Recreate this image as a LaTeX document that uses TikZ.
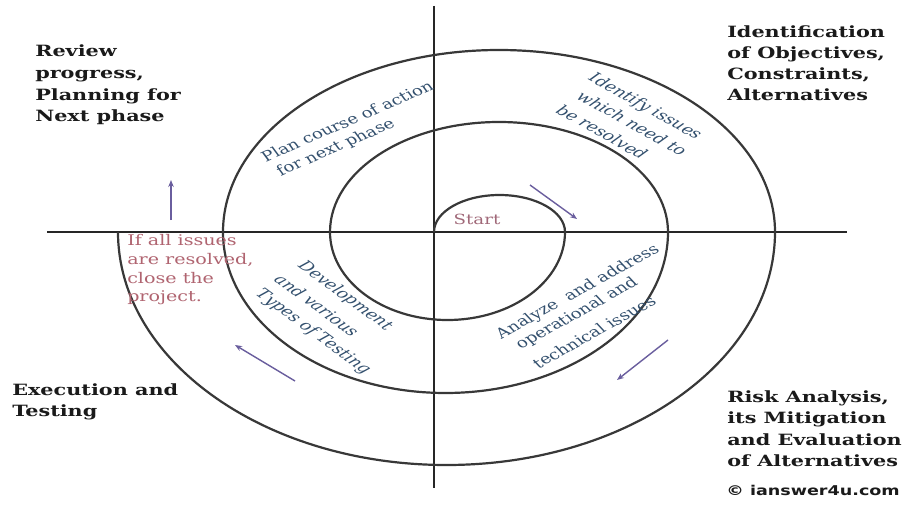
\documentclass[tikz,border=0pt]{standalone}
\usepackage{fontspec}
\setmainfont{DejaVu Serif}
\newfontfamily\cpfont{DejaVu Sans}
\usetikzlibrary{arrows.meta}
\definecolor{linec}{HTML}{383838}
\definecolor{axisc}{HTML}{262626}
\definecolor{headc}{HTML}{1A1A1A}
\definecolor{bluec}{HTML}{33506E}
\definecolor{startc}{HTML}{A06878}
\definecolor{pinkc}{HTML}{B06470}
\definecolor{arrc}{HTML}{6A5E9E}
\begin{document}
\begin{tikzpicture}[x=1pt,y=-1pt,
  spiral/.style={draw=linec, line width=2.2pt},
  axisline/.style={draw=axisc, line width=2.4pt},
  head/.style={font=\fontsize{15.5}{21}\selectfont\bfseries, text=headc, xscale=1.34, anchor=base west, inner sep=0pt},
  bluetxt/.style={font=\fontsize{14}{19}\selectfont, text=bluec, xscale=1.3, anchor=center, inner sep=0pt},
  blueit/.style={font=\fontsize{14}{19}\selectfont\itshape, text=bluec, xscale=1.3, anchor=center, inner sep=0pt},
  pinktxt/.style={font=\fontsize{14.7}{19}\selectfont, text=pinkc, xscale=1.3, anchor=base west, inner sep=0pt},
  arr/.style={draw=arrc, line width=1.4pt, -{Stealth[length=7pt,width=5.5pt]}}
]
\useasboundingbox (0,0) rectangle (904,505);
\fill[white] (0,0) rectangle (904,505);

% axes
\coordinate (hl) at (47,232);
\coordinate (hr) at (847,232);
\coordinate (vt) at (434,6);
\coordinate (vb) at (434,488);
\draw[axisline] (hl) -- (hr);
\draw[axisline] (vt) -- (vb);

% spiral
\coordinate (sp0) at (434,232);
\draw[spiral] (sp0)
  arc[start angle=180,end angle=360,x radius=65.5,y radius=37]
  arc[start angle=0,end angle=180,x radius=117.5,y radius=88]
  arc[start angle=180,end angle=360,x radius=169,y radius=110]
  arc[start angle=0,end angle=180,x radius=222.5,y radius=161]
  arc[start angle=180,end angle=360,x radius=276,y radius=182]
  arc[start angle=0,end angle=180,x radius=328.5,y radius=233];

% headings
\node[head] (rv1) at (35,57) {Review};
\node[head] (rv2) at (35,79) {progress,};
\node[head] (rv3) at (35,101) {Planning for};
\node[head] (rv4) at (35,122) {Next phase};
\node[head] (id1) at (727,38) {Identification};
\node[head] (id2) at (727,59) {of Objectives,};
\node[head] (id3) at (727,80) {Constraints,};
\node[head] (id4) at (727,101) {Alternatives};
\node[head] (ex1) at (12,395) {Execution and};
\node[head] (ex2) at (12,416) {Testing};
\node[head] (rk1) at (727,402) {Risk Analysis,};
\node[head] (rk2) at (727,423) {its Mitigation};
\node[head] (rk3) at (727,445) {and Evaluation};
\node[head] (rk4) at (727,466) {of Alternatives};

% copyright
\node[font=\cpfont\fontsize{13.5}{16}\selectfont\bfseries, text=headc, xscale=1.3, anchor=base east, inner sep=0pt] (cp) at (900,495) {© ianswer4u.com};

% blue texts
\node[bluetxt, rotate=29.5] (pl1) at (347,121) {Plan course of action};
\node[bluetxt, rotate=29.5] (pl2) at (336,148) {for next phase};
\node[blueit, rotate=-35.8] (if1) at (645,107) {Identify issues};
\node[blueit, rotate=-35.8] (if2) at (632,123) {which need to};
\node[blueit, rotate=-35.8] (if3) at (602,132) {be resolved};
\node[bluetxt, rotate=35.8] (an1) at (578,292) {Analyze\ \ and address};
\node[bluetxt, rotate=35.8] (an2) at (577,314) {operational and};
\node[bluetxt, rotate=35.8] (an3) at (594,332) {technical issues};
\node[blueit, rotate=-43.4] (dv1) at (345,296) {Development};
\node[blueit, rotate=-43.4] (dv2) at (317,305) {and various};
\node[blueit, rotate=-43.4] (dv3) at (313,332) {Types of Testing};

% start
\node[font=\fontsize{14}{16}\selectfont, text=startc, xscale=1.3, inner sep=0pt] (st) at (477,219) {Start};

% close text
\node[pinktxt] (ia1) at (127,245) {If all issues};
\node[pinktxt] (ia2) at (127,264) {are resolved,};
\node[pinktxt] (ia3) at (127,283) {close the};
\node[pinktxt] (ia4) at (127,301) {project.};

% arrows
\coordinate (a1s) at (171,220); \coordinate (a1e) at (171,180);
\coordinate (a2s) at (530,185); \coordinate (a2e) at (577,219);
\coordinate (a3s) at (668,340); \coordinate (a3e) at (617,380);
\coordinate (a4s) at (295,381); \coordinate (a4e) at (235,345);
\draw[arr] (a1s) -- (a1e);
\draw[arr] (a2s) -- (a2e);
\draw[arr] (a3s) -- (a3e);
\draw[arr] (a4s) -- (a4e);
\end{tikzpicture}
\end{document}
